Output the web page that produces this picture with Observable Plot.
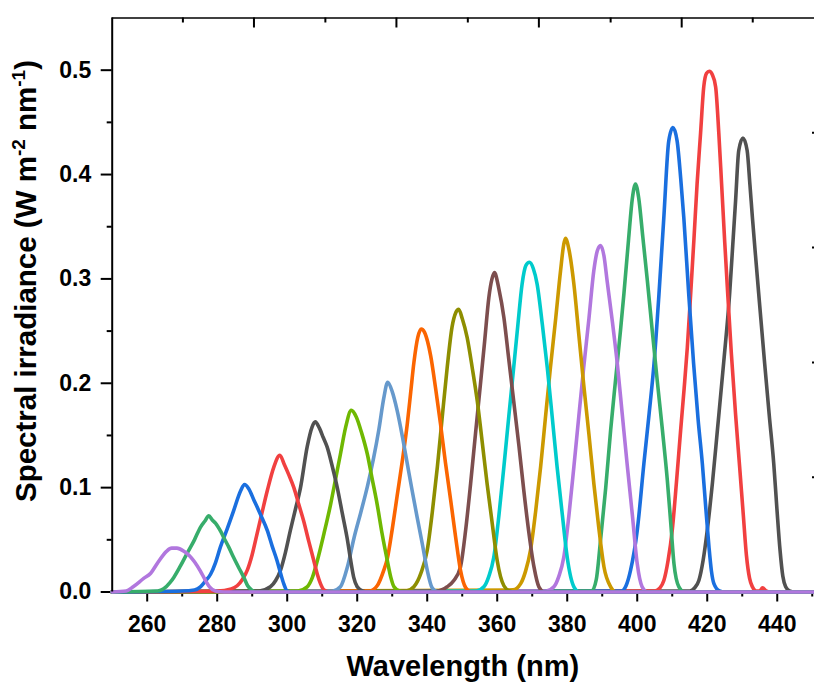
<!DOCTYPE html>
<html><head><meta charset="utf-8">
<script src="https://cdn.jsdelivr.net/npm/d3@7"></script>
<script src="https://cdn.jsdelivr.net/npm/@observablehq/plot@0.6"></script>
<style>
body{margin:0;background:#fff;}
#chart svg{display:block;}
</style>
</head><body><div id="chart"></div>
<script>
// ---- data: [wavelength nm, spectral irradiance W m^-2 nm^-1] ----
const s267 = [[250,0],[254,0.001],[256,0.005],[259,0.013],[261,0.018],[263,0.028],[265.5,0.039],[267,0.042],[268.5,0.042],[270.5,0.039],[272,0.035],[273.5,0.029],[275.2,0.020],[276.5,0.012],[277.8,0.005],[279.5,0.001],[282,0],[451.5,0]];
const s277 = [[250,0],[263,0.001],[264.7,0.003],[266.5,0.009],[267.6,0.014],[269.5,0.025],[271.4,0.037],[273.5,0.050],[275.2,0.062],[276.5,0.068],[277.6,0.073],[278.6,0.069],[279.5,0.066],[281,0.058],[281.9,0.052],[283.3,0.043],[284.7,0.033],[286.2,0.023],[287.6,0.014],[288.7,0.006],[289.8,0.002],[291,0],[451.5,0]];
const s287 = [[250,0],[270,0.001],[273.5,0.002],[275.2,0.005],[276.5,0.010],[278.1,0.017],[279.5,0.028],[280.9,0.043],[282.8,0.060],[284.7,0.078],[286.7,0.097],[287.8,0.103],[289,0.099],[290.5,0.088],[292.4,0.074],[294.3,0.059],[295.7,0.044],[297.1,0.030],[298.1,0.018],[299,0.008],[300,0.001],[301.5,0],[451.5,0]];
const s297 = [[250,0],[280,0.001],[284,0.003],[285.7,0.006],[287.2,0.012],[288.6,0.021],[290,0.036],[291.4,0.056],[292.8,0.076],[294.3,0.097],[296.2,0.120],[297.9,0.131],[299.2,0.122],[300.5,0.112],[301.9,0.100],[303.3,0.084],[304.7,0.068],[306.2,0.048],[307.6,0.030],[308.6,0.017],[309.5,0.008],[310.5,0.002],[312,0],[451.5,0]];
const s307 = [[250,0],[292,0.001],[295.2,0.005],[296.7,0.011],[298.1,0.021],[299.5,0.038],[300.9,0.059],[302.4,0.080],[303.8,0.100],[305.7,0.139],[307.1,0.158],[308,0.163],[309.2,0.157],[310.3,0.148],[311.4,0.139],[312.9,0.120],[314.3,0.100],[315.7,0.076],[317.1,0.052],[318.1,0.031],[319,0.014],[320,0.005],[321.5,0.001],[323,0],[451.5,0]];
const s317 = [[250,0],[303,0.001],[305.7,0.005],[307.2,0.014],[308.6,0.030],[310.5,0.056],[312.4,0.084],[313.8,0.108],[315.2,0.132],[316.7,0.158],[318.3,0.174],[319.7,0.168],[321.3,0.152],[322.9,0.132],[324.3,0.108],[325.7,0.084],[327.1,0.056],[328.6,0.030],[329.6,0.014],[330.5,0.005],[332,0.001],[333.5,0],[451.5,0]];
const s327 = [[250,0],[313,0.001],[315.2,0.005],[317.2,0.024],[319.1,0.052],[321,0.076],[322.9,0.101],[324.6,0.127],[326.2,0.156],[327.6,0.186],[328.7,0.201],[330,0.192],[331.4,0.174],[332.9,0.149],[334.3,0.123],[335.7,0.097],[337.1,0.072],[338.6,0.046],[340,0.021],[341.4,0.004],[343,0],[451.5,0]];
const s337 = [[250,0],[323.5,0.001],[325.7,0.006],[327.6,0.021],[328.6,0.032],[330,0.060],[331.4,0.092],[332.9,0.126],[334.3,0.161],[335.3,0.192],[336.2,0.220],[337.3,0.244],[338.3,0.252],[339.2,0.249],[340.1,0.240],[341,0.226],[342.4,0.195],[343.8,0.161],[345.2,0.124],[346.7,0.088],[348.1,0.053],[349.5,0.021],[351,0.004],[352.5,0],[451.5,0]];
const s347 = [[250,0],[334,0.001],[336.2,0.005],[338.2,0.018],[340,0.040],[341.5,0.078],[342.9,0.120],[344.3,0.168],[345.7,0.215],[347.1,0.254],[348.2,0.268],[349,0.271],[350,0.262],[351.4,0.244],[352.9,0.214],[354.3,0.183],[355.7,0.144],[357.1,0.104],[358.6,0.065],[360,0.030],[361.9,0.006],[363.5,0.001],[365,0],[451.5,0]];
const s357 = [[250,0],[343,0.001],[345.7,0.005],[347.6,0.011],[349.5,0.024],[351,0.060],[352.4,0.104],[353.8,0.152],[355.2,0.199],[356.4,0.240],[357.6,0.282],[358.5,0.300],[359.2,0.306],[360.5,0.290],[361.9,0.263],[363.3,0.223],[364.7,0.183],[366.2,0.140],[367.6,0.097],[369,0.058],[370.5,0.024],[371.9,0.005],[373.5,0],[451.5,0]];
const s367 = [[250,0],[354,0.001],[356.2,0.005],[357.6,0.015],[359,0.033],[360.5,0.074],[361.9,0.120],[363.3,0.168],[364.7,0.215],[365.9,0.256],[367.1,0.295],[368.2,0.313],[369.2,0.316],[370.3,0.310],[371.4,0.295],[372.9,0.256],[374.3,0.215],[375.7,0.168],[377.1,0.120],[378.6,0.074],[380,0.033],[381.9,0.005],[383.5,0],[451.5,0]];
const s377 = [[250,0],[364.5,0.002],[366.7,0.008],[368.1,0.020],[369.5,0.040],[371,0.078],[372.4,0.120],[373.8,0.168],[375.2,0.215],[376.7,0.262],[378.1,0.308],[379,0.333],[379.5,0.339],[380.5,0.328],[381.9,0.295],[383.3,0.247],[384.7,0.199],[386.2,0.151],[387.6,0.104],[389,0.062],[390.5,0.024],[392.4,0.005],[394,0],[451.5,0]];
const s387 = [[250,0],[374,0.001],[376.2,0.005],[377.6,0.015],[379,0.033],[380.5,0.074],[381.9,0.120],[383.3,0.168],[384.7,0.215],[386.2,0.262],[387.6,0.308],[388.6,0.327],[389.5,0.332],[390.5,0.322],[391.4,0.298],[392.9,0.259],[394.3,0.219],[395.7,0.171],[397.1,0.123],[398.6,0.074],[400,0.027],[401.4,0.005],[403,0],[451.5,0]];
const s397 = [[250,0],[387,0.001],[388.3,0.012],[389.5,0.049],[391,0.100],[392.4,0.155],[393.8,0.203],[395.2,0.250],[396.2,0.286],[397.5,0.337],[398.6,0.377],[399.5,0.391],[400.4,0.378],[401.6,0.340],[402.9,0.298],[404.3,0.250],[405.7,0.203],[407.2,0.155],[408.6,0.107],[409.6,0.065],[410.5,0.027],[411.9,0.005],[413.5,0],[451.5,0]];
const s407 = [[250,0],[395.5,0.001],[396.8,0.006],[398.1,0.021],[400,0.059],[401.9,0.123],[403.4,0.171],[404.8,0.219],[406.2,0.285],[407.6,0.359],[409,0.432],[410.2,0.445],[411.4,0.432],[412.4,0.397],[413.3,0.359],[414.7,0.286],[416.1,0.219],[417.4,0.165],[418.6,0.123],[419.6,0.080],[420.5,0.043],[421.2,0.020],[421.9,0.008],[423.5,0.001],[425,0],[451.5,0]];
const s418 = [[250,0],[405,0.001],[406.5,0.004],[407.6,0.011],[408.8,0.030],[410,0.059],[411.2,0.105],[412.4,0.155],[413.4,0.195],[414.3,0.234],[415.2,0.282],[416.2,0.338],[417.1,0.391],[418.1,0.440],[419,0.484],[419.8,0.497],[420.6,0.499],[421.4,0.496],[422.4,0.484],[423.3,0.440],[424.1,0.391],[425,0.335],[425.9,0.283],[426.9,0.228],[428.1,0.170],[429.3,0.118],[430.3,0.074],[431.2,0.035],[432.1,0.013],[432.9,0.005],[434,0.001],[435,0.001],[435.8,0.004],[436.8,0.001],[438,0],[451.5,0]];
const s427 = [[250,0],[415,0.001],[416.4,0.004],[417.6,0.011],[418.8,0.030],[420,0.059],[421.5,0.105],[422.9,0.155],[424.7,0.220],[426.4,0.286],[427.3,0.333],[428.1,0.375],[429,0.423],[430.2,0.435],[431.4,0.423],[432.2,0.390],[432.9,0.359],[433.8,0.322],[434.7,0.286],[436.4,0.219],[437.7,0.170],[439,0.123],[439.9,0.080],[440.8,0.040],[441.6,0.015],[442.4,0.005],[443.5,0.001],[445,0],[451.5,0]];

// drawing order (last drawn on top)
const seriesNames  = ["427","418","407","397","387","377","367","357","347","337","327","317","307","297","287","277","267"];
const seriesData   = [s427, s418, s407, s397, s387, s377, s367, s357, s347, s337, s327, s317, s307, s297, s287, s277, s267];
const seriesColors = ["#515151","#F14040","#1A6FDF","#37AD6B","#B177DE","#CC9900","#00CBCC","#7D4E4E","#8E8E00","#FB6501","#6699CC","#6FB802","#515151","#F14040","#1A6FDF","#37AD6B","#B177DE"];

const xMajorTicks = [260,280,300,320,340,360,380,400,420,440];
const xMinorTicks = [270,290,310,330,350,370,390,410,430,450];
const yMajorTicks = [0,0.1,0.2,0.3,0.4,0.5];
const yMinorTicks = [0.05,0.15,0.25,0.35,0.45];
const topLongTicks  = [290.5,331.2,371.9,412.7];
const topShortTicks = [270.2,310.9,351.6,392.4,433.0];
const rightTicks = [0.11,0.22,0.33,0.44];

const xTitle = "Wavelength (nm)";

// ---- build table ----
const table = [];
seriesNames.forEach((name, i) => {
  for (const [wl, v] of seriesData[i]) table.push({series: name, wl, v});
});

const W = 814, H = 682;
const mL = 111.7, mR = -3, mT = 17.5, mB = 90.5;
const innerW = W - mL - mR, innerH = H - mT - mB;
const font = "'Liberation Sans', Arial, Helvetica, sans-serif";

const chart = Plot.plot({
  width: W, height: H,
  marginLeft: mL, marginRight: mR, marginTop: mT, marginBottom: mB,
  style: {fontFamily: font, background: "#fff", color: "#000", overflow: "visible"},
  x: {domain: [250, 451.5]},
  y: {domain: [0, 0.55]},
  color: {domain: seriesNames, range: seriesColors},
  marks: [
    Plot.ruleY([0.55], {stroke: "#000", strokeWidth: 1.5}),
    Plot.tickX(topLongTicks,  {x: d => d, stroke: "#000", strokeWidth: 2, insetBottom: innerH - 10}),
    Plot.tickX(topShortTicks, {x: d => d, stroke: "#000", strokeWidth: 2, insetBottom: innerH - 5}),
    Plot.tickY(rightTicks, {y: d => d, stroke: "#000", strokeWidth: 2, insetLeft: innerW - 5}),
    Plot.ruleY([0], {stroke: "#000", strokeWidth: 2}),
    Plot.axisX({ticks: xMajorTicks, tickSize: 10, tickPadding: 14, strokeWidth: 2, tickFormat: d => String(d),
      fontSize: 23, fontWeight: "bold", label: null}),
    Plot.axisX({ticks: xMinorTicks, tickSize: 5, strokeWidth: 2, tickFormat: () => "", label: null}),
    Plot.axisY({ticks: yMajorTicks, tickSize: 11, tickPadding: 10, strokeWidth: 2, tickFormat: d3.format(".1f"),
      fontSize: 23, fontWeight: "bold", label: null}),
    Plot.axisY({ticks: yMinorTicks, tickSize: 5, strokeWidth: 2, tickFormat: () => "", label: null}),
    Plot.line(table, {x: "wl", y: "v", z: "series", stroke: "series", strokeWidth: 3.6,
      curve: "monotone-x", strokeLinejoin: "round", strokeLinecap: "round"}),
    Plot.ruleX([250], {stroke: "#000", strokeWidth: 2})
  ]
});

document.getElementById("chart").appendChild(chart);

const svg = d3.select(chart);
svg.append("text")
  .attr("x", mL + innerW / 2 - 1.5).attr("y", 676)
  .attr("text-anchor", "middle")
  .attr("font-family", font).attr("font-weight", "bold").attr("font-size", 29)
  .attr("fill", "#000")
  .text(xTitle);

const yt = svg.append("text")
  .attr("transform", "translate(36,281) rotate(-90)")
  .attr("text-anchor", "middle")
  .attr("font-family", font).attr("font-weight", "bold").attr("font-size", 29.5)
  .attr("fill", "#000");
yt.append("tspan").text("Spectral irradiance (W m");
yt.append("tspan").attr("dy", -11).attr("font-size", 19).text("-2");
yt.append("tspan").attr("dy", 11).text(" nm");
yt.append("tspan").attr("dy", -11).attr("font-size", 19).text("-1");
yt.append("tspan").attr("dy", 11).text(")");
</script>
</body></html>
